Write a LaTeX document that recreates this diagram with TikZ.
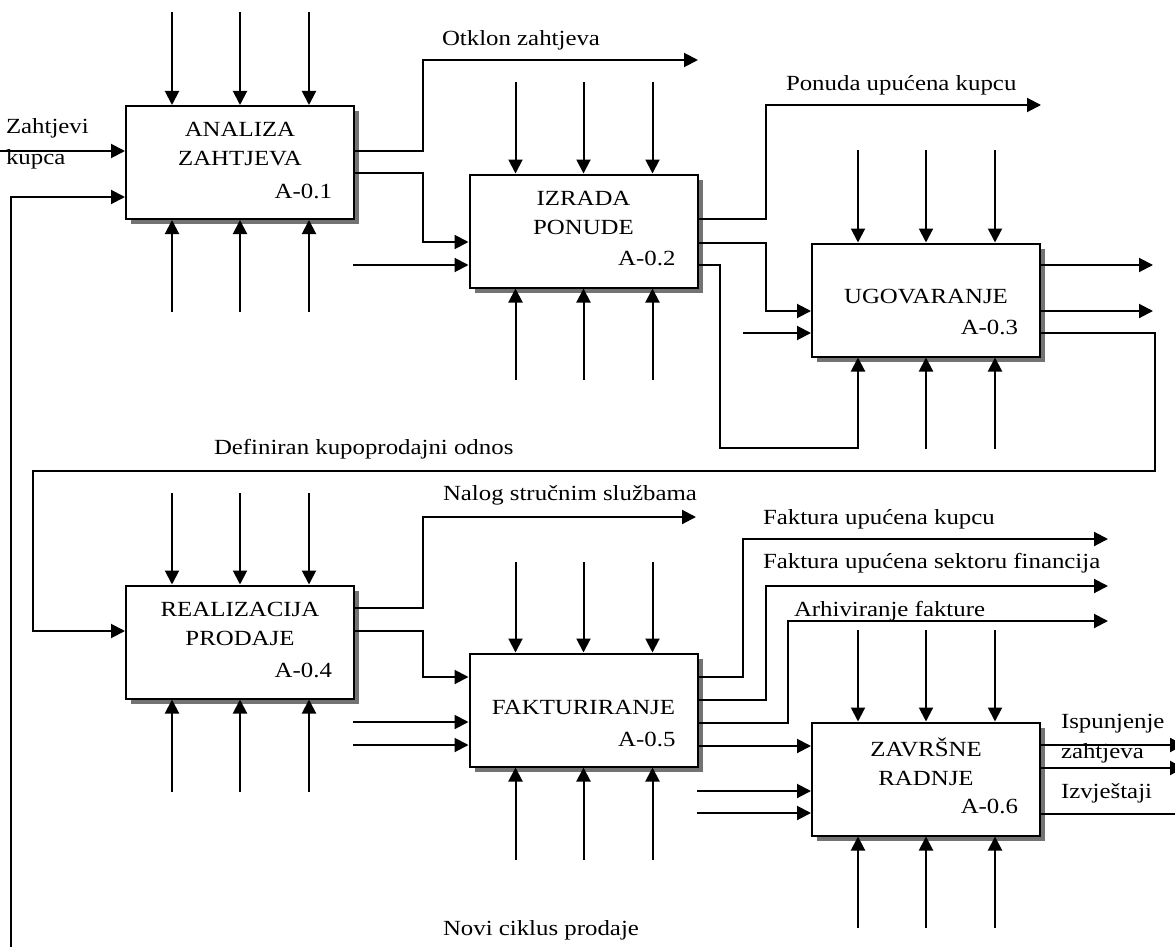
\documentclass[tikz,border=0pt]{standalone}
\usepackage{fontspec}
\setmainfont{Liberation Serif}[FakeStretch=1.15]
\usetikzlibrary{arrows.meta,shadows}
\begin{document}
\begin{tikzpicture}[x=1pt,y=-1pt,line width=2pt,
  proc/.style={draw, fill=white, minimum width=228pt, minimum height=113pt, inner sep=0pt,
    drop shadow={shadow xshift=5pt, shadow yshift=-5pt, fill=black!55, opacity=1}},
  txt/.style={font=\fontsize{21.6}{29}\selectfont, inner sep=0pt},
  arr/.style={-{Triangle[length=14pt,width=14pt]}}]
\useasboundingbox (0,0) rectangle (1175,947);

% boxes
\node[proc] (b1) at (240,162.5) {};
\node[proc] (b2) at (583.5,231) {};
\node[proc] (b3) at (926,300) {};
\node[proc] (b4) at (240,642) {};
\node[proc] (b5) at (583.5,710) {};
\node[proc] (b6) at (926,779) {};

% box texts
\node[txt, align=center] (t1) at ([yshift=-39.5pt]b1.north) {ANALIZA\\ZAHTJEVA};
\node[txt, align=center] (t2) at ([yshift=-39.5pt]b2.north) {IZRADA\\PONUDE};
\node[txt] (t3) at ([yshift=-54pt]b3.north) {UGOVARANJE};
\node[txt, align=center] (t4) at ([yshift=-39.5pt]b4.north) {REALIZACIJA\\PRODAJE};
\node[txt] (t5) at ([yshift=-55pt]b5.north) {FAKTURIRANJE};
\node[txt, align=center] (t6) at ([yshift=-40.5pt]b6.north) {ZAVRŠNE\\RADNJE};
\node[txt, anchor=east] (a1) at ([xshift=-22pt,yshift=-86pt]b1.north east) {A-0.1};
\node[txt, anchor=east] (a2) at ([xshift=-22pt,yshift=-85pt]b2.north east) {A-0.2};
\node[txt, anchor=east] (a3) at ([xshift=-22pt,yshift=-85pt]b3.north east) {A-0.3};
\node[txt, anchor=east] (a4) at ([xshift=-22pt,yshift=-86pt]b4.north east) {A-0.4};
\node[txt, anchor=east] (a5) at ([xshift=-22pt,yshift=-87pt]b5.north east) {A-0.5};
\node[txt, anchor=east] (a6) at ([xshift=-22pt,yshift=-85pt]b6.north east) {A-0.6};

% controls (top) and mechanisms (bottom)
\foreach \b/\t in {b1/12, b2/82, b3/150, b4/493, b5/562, b6/630} {
  \foreach \d in {-68,0,69} {
    \draw[arr] ([xshift=\d pt]\b.north |- 0,\t) -- ([xshift=\d pt]\b.north);
  }
}
\foreach \b/\u in {b1/312, b2/380, b4/792, b5/860, b6/928} {
  \foreach \d in {-68,0,69} {
    \draw[arr] ([xshift=\d pt]\b.south |- 0,\u) -- ([xshift=\d pt]\b.south);
  }
}
\foreach \d in {0,69} {
  \draw[arr] ([xshift=\d pt]b3.south |- 0,449) -- ([xshift=\d pt]b3.south);
}

% box 1
\draw[arr] (0,151) -- (b1.west |- 0,151);
\draw[arr] (11,947) -- (11,197) -- (b1.west |- 0,197);
\draw[arr] (b1.east |- 0,151) -- (423,151) -- (423,60) -- (698,60);
\draw[arr] (b1.east |- 0,173) -- (423,173) -- (423,242) -- (b2.west |- 0,242);

% box 2
\draw[arr] (353,265) -- (b2.west |- 0,265);
\draw[arr] (b2.east |- 0,219) -- (766,219) -- (766,105) -- (1041,105);
\draw[arr] (b2.east |- 0,243) -- (766,243) -- (766,311) -- (b3.west |- 0,311);
\draw[arr] (b2.east |- 0,265) -- (720,265) -- (720,448) -- (858,448) -- ([xshift=-68pt]b3.south);

% box 3
\draw[arr] (743,333) -- (b3.west |- 0,333);
\draw[arr] (b3.east |- 0,265) -- (1153,265);
\draw[arr] (b3.east |- 0,311) -- (1153,311);
\draw[arr] (b3.east |- 0,333) -- (1155,333) -- (1155,471) -- (33,471) -- (33,631) -- (b4.west |- 0,631);

% box 4
\draw[arr] (b4.east |- 0,608) -- (423,608) -- (423,517) -- (696,517);
\draw[arr] (b4.east |- 0,631) -- (423,631) -- (423,677) -- (b5.west |- 0,677);

% box 5
\draw[arr] (353,722) -- (b5.west |- 0,722);
\draw[arr] (353,745) -- (b5.west |- 0,745);
\draw[arr] (b5.east |- 0,677) -- (743,677) -- (743,539) -- (1108,539);
\draw[arr] (b5.east |- 0,700) -- (766,700) -- (766,586) -- (1108,586);
\draw[arr] (b5.east |- 0,723) -- (788,723) -- (788,621) -- (1108,621);
\draw[arr] (b5.east |- 0,746) -- (b6.west |- 0,746);

% box 6
\draw[arr] (697,791) -- (b6.west |- 0,791);
\draw[arr] (697,813) -- (b6.west |- 0,813);
\draw[arr] (b6.east |- 0,745) -- (1184,745);
\draw[arr] (b6.east |- 0,768) -- (1184,768);
\draw (b6.east |- 0,814) -- (1176,814);

% labels
\node[txt, anchor=west] (l1) at (5,128) {Zahtjevi};
\node[txt, anchor=west] (l2) at (5,159) {kupca};
\node[txt, anchor=west] (l3) at (441,40) {Otklon zahtjeva};
\node[txt, anchor=west] (l4) at (785,85) {Ponuda upućena kupcu};
\node[txt, anchor=west] (l5) at (213,449) {Definiran kupoprodajni odnos};
\node[txt, anchor=west] (l6) at (442,495) {Nalog stručnim službama};
\node[txt, anchor=west] (l7) at (762,519) {Faktura upućena kupcu};
\node[txt, anchor=west] (l8) at (762,563) {Faktura upućena sektoru financija};
\node[txt, anchor=west] (l9) at (793,611) {Arhiviranje fakture};
\node[txt, anchor=west] (l10) at (1060,724) {Ispunjenje};
\node[txt, anchor=west] (l11) at (1060,753) {zahtjeva};
\node[txt, anchor=west] (l12) at (1060,793) {Izvještaji};
\node[txt, anchor=west] (l13) at (442,930) {Novi ciklus prodaje};
\end{tikzpicture}
\end{document}
